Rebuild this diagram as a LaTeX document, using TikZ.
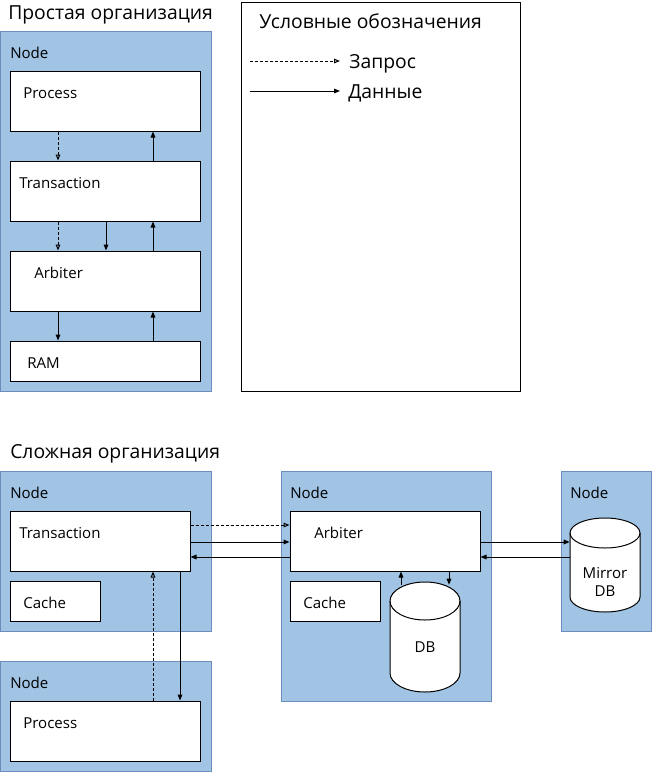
\documentclass[tikz,border=0pt]{standalone}
\usepackage{fontspec}
\setmainfont{Open Sans}
\usetikzlibrary{arrows.meta,fit,positioning}
\usetikzlibrary{shapes.geometric}

\definecolor{areafill}{RGB}{161,196,228}
\definecolor{areadraw}{RGB}{108,142,191}

\begin{document}
\begin{tikzpicture}[
		x=0.75pt, y=-0.75pt,
		every node/.style={font=\fontsize{11.3pt}{13.5pt}\selectfont},
		area/.style={draw=areadraw, fill=areafill, line width=0.75pt, inner sep=0pt},
		block/.style={draw, fill=white, line width=0.75pt, inner sep=0pt},
		txt/.style={anchor=base west, inner sep=0pt},
		head/.style={anchor=base west, inner sep=0pt, font=\fontsize{14.5pt}{17pt}\selectfont},
		dbline/.style={draw, fill=white, line width=0.75pt},
		dbtxt/.style={align=center, inner sep=0pt},
		req/.style={line width=0.75pt, dash pattern=on 2.25pt off 1.5pt, -{Triangle[open, length=4.5pt, width=3.5pt]}},
		dat/.style={line width=0.75pt, -{Triangle[length=4.5pt, width=3.5pt]}},
	]
		\useasboundingbox (0,0) rectangle (651,772);

		% simple organisation
		\node[head] (simplehead) at (8,19) {Простая организация};
		\node[area, fit={(0,31) (211,391)}] (simple) {};
		\node[txt] at (10,58) {Node};
		\node[block, fit={(10,71) (200,131)}] (proc) {};
		\node[block, fit={(10,161) (200,221)}] (trans) {};
		\node[block, fit={(10,251) (200,311)}] (arb) {};
		\node[block, fit={(10,341) (200,381)}] (ram) {};
		\node[txt] at (23,98) {Process};
		\node[txt] at (19,188) {Transaction};
		\node[txt] at (34,278) {Arbiter};
		\node[txt] at (27,368) {RAM};

		\coordinate (c1) at (58,0);
		\coordinate (c2) at (106,0);
		\coordinate (c3) at (153,0);

		\draw[req] (proc.south-|c1) -- (trans.north-|c1);
		\draw[dat] (trans.north-|c3) -- (proc.south-|c3);
		\draw[req] (trans.south-|c1) -- (arb.north-|c1);
		\draw[dat] (trans.south-|c2) -- (arb.north-|c2);
		\draw[dat] (arb.north-|c3) -- (trans.south-|c3);
		\draw[dat] (arb.south-|c1) -- (ram.north-|c1);
		\draw[dat] (ram.north-|c3) -- (arb.south-|c3);

		% legend
		\node[block, fit={(241,2) (520,391)}] (legend) {};
		\node[head] at (259,28) {Условные обозначения};
		\path (250,61) coordinate (lq1) ++(90,0) coordinate (lq2);
		\path (250,91) coordinate (ld1) ++(90,0) coordinate (ld2);
		\draw[req] (lq1) -- (lq2);
		\draw[dat] (ld1) -- (ld2);
		\node[head] at (349,68) {Запрос};
		\node[head] at (348,98) {Данные};

		% complex organisation
		\node[head] (complexhead) at (10,458) {Сложная организация};
		\node[area, fit={(0,471) (211,631)}] (nodea) {};
		\node[area, fit={(0,661) (211,771)}] (nodeb) {};
		\node[area, fit={(281,471) (491,701)}] (nodec) {};
		\node[area, fit={(561,471) (651,631)}] (noded) {};
		\node[txt] at (10,498) {Node};
		\node[txt] at (10,688) {Node};
		\node[txt] at (290,498) {Node};
		\node[txt] at (570,498) {Node};

		\node[block, fit={(10,511) (190,571)}] (ctrans) {};
		\node[block, fit={(10,581) (100,621)}] (ccachea) {};
		\node[block, fit={(10,701) (200,761)}] (cproc) {};
		\node[block, fit={(290,511) (480,571)}] (carb) {};
		\node[block, fit={(290,581) (380,621)}] (ccacheb) {};
		\node[txt] at (19,538) {Transaction};
		\node[txt] at (23,608) {Cache};
		\node[txt] at (23,728) {Process};
		\node[txt] at (314,538) {Arbiter};
		\node[txt] at (303,608) {Cache};

		% cylinders
		\draw[dbline] (390,601) -- (390,673) arc[start angle=180, end angle=360, x radius=26.25pt, y radius=14.25pt]
			-- (460,601) arc[start angle=0, end angle=180, x radius=26.25pt, y radius=14.25pt] -- cycle;
		\draw[line width=0.75pt] (390,601) arc[start angle=180, end angle=360, x radius=26.25pt, y radius=14.25pt];
		\node[inner sep=0pt, fit={(390,582) (460,692)}] (db) {};
		\node[dbtxt] at (425,647) {DB};

		\draw[dbline] (570,533) -- (570,597) arc[start angle=180, end angle=360, x radius=26.25pt, y radius=11.25pt]
			-- (640,533) arc[start angle=0, end angle=180, x radius=26.25pt, y radius=11.25pt] -- cycle;
		\draw[line width=0.75pt] (570,533) arc[start angle=180, end angle=360, x radius=26.25pt, y radius=11.25pt];
		\node[inner sep=0pt, fit={(570,518) (640,612)}] (mdb) {};
		\node[dbtxt] at (605,582) {Mirror\\DB};

		\coordinate (r1) at (0,525);
		\coordinate (r2) at (0,542);
		\coordinate (r3) at (0,557);
		\coordinate (c4) at (153,0);
		\coordinate (c5) at (180,0);
		\coordinate (c6) at (401,0);
		\coordinate (c7) at (449,0);

		\draw[req] (ctrans.east|-r1) -- (carb.west|-r1);
		\draw[dat] (ctrans.east|-r2) -- (carb.west|-r2);
		\draw[dat] (carb.west|-r3) -- (ctrans.east|-r3);
		\draw[dat] (carb.east|-r2) -- (mdb.west|-r2);
		\draw[dat] (mdb.west|-r3) -- (carb.east|-r3);
		\draw[req] (cproc.north-|c4) -- (ctrans.south-|c4);
		\draw[dat] (ctrans.south-|c5) -- (cproc.north-|c5);
		\draw[dat] ([yshift=-2.25pt]db.north-|c6) -- (carb.south-|c6);
		\draw[dat] (carb.south-|c7) -- ([yshift=-2.25pt]db.north-|c7);
	\end{tikzpicture}
\end{document}
